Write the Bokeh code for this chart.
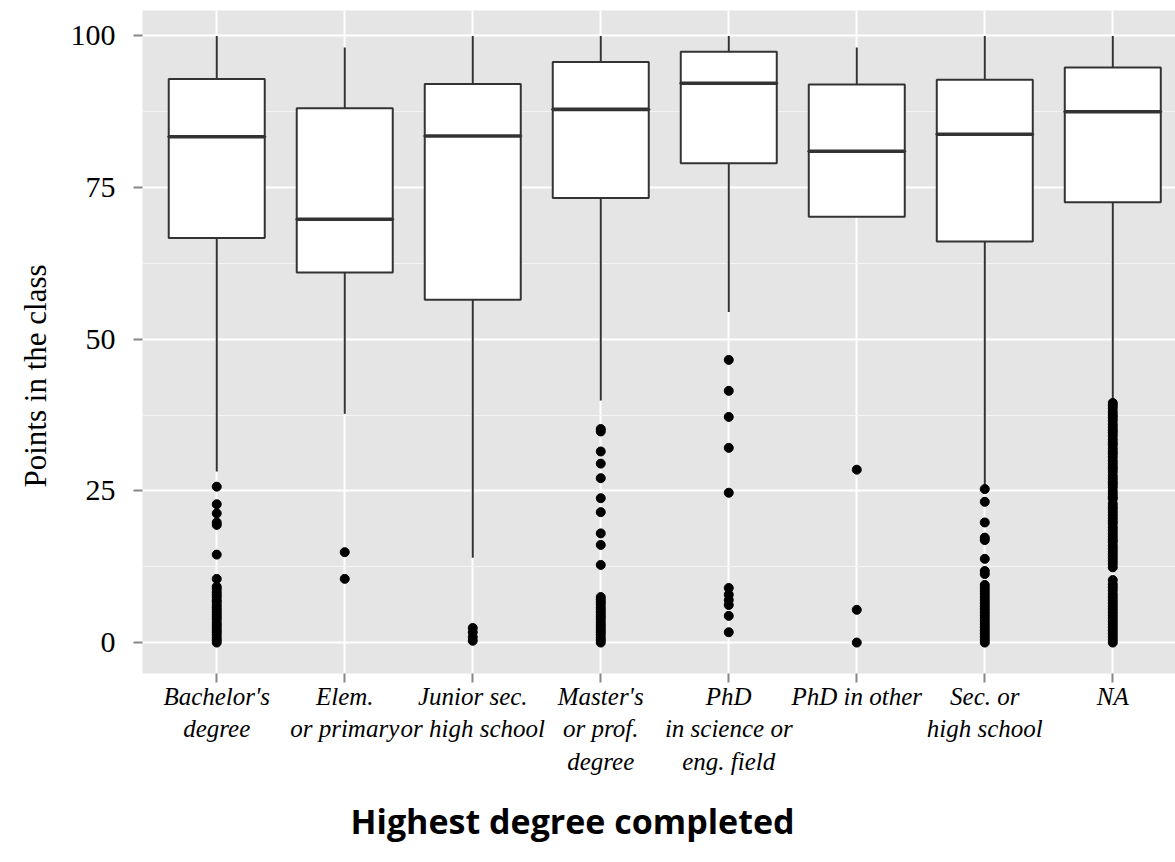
from bokeh.plotting import figure
from bokeh.models import Range1d, FixedTicker, Title
from bokeh.embed import file_html
from bokeh.resources import INLINE

# ---------------- data ----------------
categories = ["Bachelor's\ndegree", "Elem.\nor primary", "Junior sec.\nor high school",
              "Master's\nor prof.\ndegree", "PhD\nin science or\neng. field",
              "PhD in other", "Sec. or\nhigh school", "NA"]

q1 = [66.7, 61.0, 56.5, 73.3, 79.0, 70.2, 66.1, 72.6]
median = [83.4, 69.8, 83.5, 87.9, 92.2, 81.0, 83.8, 87.5]
q3 = [92.9, 88.1, 92.1, 95.7, 97.4, 92.0, 92.8, 94.8]
upper = [100, 98.1, 100, 100, 100, 98.1, 100, 100]
lower = [28.2, 37.7, 14.0, 39.9, 54.5, 70.2, 26.0, 39.6]

out_bachelor = [25.7, 22.8, 21.3, 19.8, 19.4, 14.5, 10.5, 9.2, 8.8, 8.3, 7.9, 7.5, 7.0, 6.7,
                6.2, 5.8, 5.4, 5.0, 4.6, 4.2, 3.8, 3.3, 2.9, 2.5, 2.1, 1.7, 1.3, 0.8, 0.4, 0.0]
out_elem = [14.9, 10.5]
out_junior = [2.4, 1.7, 0.9, 0.3]
out_master = [35.2, 34.8, 31.5, 29.5, 27.1, 23.8, 21.5, 18.0, 16.1, 12.8, 7.5, 7.1, 6.7, 6.3,
              5.8, 5.4, 5.0, 4.6, 4.2, 3.8, 3.3, 2.9, 2.5, 2.1, 1.7, 1.3, 0.8, 0.4, 0.0]
out_phd_sci = [46.6, 41.5, 37.2, 32.1, 24.7, 9.0, 7.9, 7.0, 6.2, 4.4, 1.7]
out_phd_other = [28.5, 5.4, 0.0]
out_sec = [25.3, 23.2, 19.8, 17.3, 16.9, 13.8, 11.8, 11.3, 9.5, 9.0, 8.5, 8.0, 7.5, 7.0, 6.5,
           6.0, 5.5, 5.0, 4.5, 4.0, 3.5, 3.0, 2.5, 2.0, 1.5, 1.0, 0.5, 0.0]
out_na = [39.5, 39.1, 38.6, 38.0, 37.5, 37.1, 36.6, 36.0, 35.5, 35.0, 34.6, 34.1, 33.5, 33.0,
          32.6, 32.0, 31.5, 31.1, 30.6, 30.0, 29.5, 29.0, 28.6, 28.1, 27.5, 27.0, 26.5, 26.1,
          25.6, 25.0, 24.5, 24.0, 23.7, 22.9, 22.4, 22.0, 21.5, 21.0, 20.5, 20.0, 19.6, 19.0,
          18.5, 18.0, 17.5, 17.0, 16.6, 16.0, 15.5, 15.0, 14.5, 14.0, 13.5, 13.0, 12.4, 10.3,
          9.6, 9.1, 8.6, 8.0, 7.5, 7.0, 6.5, 6.0, 5.5, 5.0, 4.5, 4.0, 3.5, 3.0, 2.5, 2.0, 1.5,
          1.0, 0.5, 0.0]
outliers = [out_bachelor, out_elem, out_junior, out_master, out_phd_sci,
            out_phd_other, out_sec, out_na]

y_ticks = [0, 25, 50, 75, 100]
y_minor = [12.5, 37.5, 62.5, 87.5]

# ---------------- figure ----------------
xs = list(range(1, len(categories) + 1))

p = figure(width=1175, height=862, output_backend="svg", toolbar_location=None,
           x_range=Range1d(0.42, 8.49), y_range=Range1d(-5.1, 104.2),
           min_border_left=142, min_border_right=0, min_border_top=10,
           min_border_bottom=189)

p.background_fill_color = "#E5E5E5"
p.border_fill_color = "white"
p.outline_line_color = None

# grid
p.xaxis.ticker = FixedTicker(ticks=xs)
p.yaxis.ticker = FixedTicker(ticks=y_ticks, minor_ticks=y_minor)
p.xgrid.grid_line_color = "white"
p.xgrid.grid_line_width = 2
p.ygrid.grid_line_color = "white"
p.ygrid.grid_line_width = 2
p.ygrid.minor_grid_line_color = "#F4F4F4"
p.ygrid.minor_grid_line_width = 1

# axes
for ax in (p.xaxis, p.yaxis):
    ax.axis_line_color = None
    ax.major_tick_line_color = "#888888"
    ax.major_tick_line_width = 2
    ax.major_tick_in = 0
    ax.major_tick_out = 9
    ax.minor_tick_line_color = None
    ax.major_label_text_color = "black"
    ax.major_label_text_font = "Liberation Serif"

p.xaxis.major_label_overrides = {x: c for x, c in zip(xs, categories)}
p.xaxis.major_label_text_font_style = "italic"
p.xaxis.major_label_text_font_size = "25px"
p.xaxis.major_label_text_line_height = 1.22
p.xaxis.major_label_standoff = 0

p.yaxis.major_label_text_font_size = "30px"
p.yaxis.major_label_standoff = 18

# y axis title (shifted down like the reference)
ty = Title(text="Points in the class", align="left", offset=186,
           text_font="Liberation Serif", text_font_style="normal", text_font_size="31px",
           text_color="black", standoff=30)
p.add_layout(ty, "left")

# whiskers
p.segment(x0=xs, y0=q3, x1=xs, y1=upper, line_color="#333333", line_width=2)
p.segment(x0=xs, y0=q1, x1=xs, y1=lower, line_color="#333333", line_width=2)
# boxes
p.vbar(x=xs, width=0.75, bottom=q1, top=q3, fill_color="white",
       line_color="#333333", line_width=2)
# medians
p.rect(x=xs, y=median, width=0.75, height=0.01, height_units="screen",
       line_color="#333333", line_width=3.5, fill_color=None)

# outliers
ox, oy = [], []
for x, vals in zip(xs, outliers):
    ox.extend([x] * len(vals))
    oy.extend(vals)
p.scatter(x=ox, y=oy, size=9, fill_color="black", line_color="black")

# bottom title (x axis label)
t = Title(text="Highest degree completed", align="left", offset=208,
          text_font="Open Sans", text_font_style="bold", text_font_size="34px",
          text_color="black", standoff=35)
p.add_layout(t, "below")

open("out.html", "w").write(file_html(p, INLINE))
